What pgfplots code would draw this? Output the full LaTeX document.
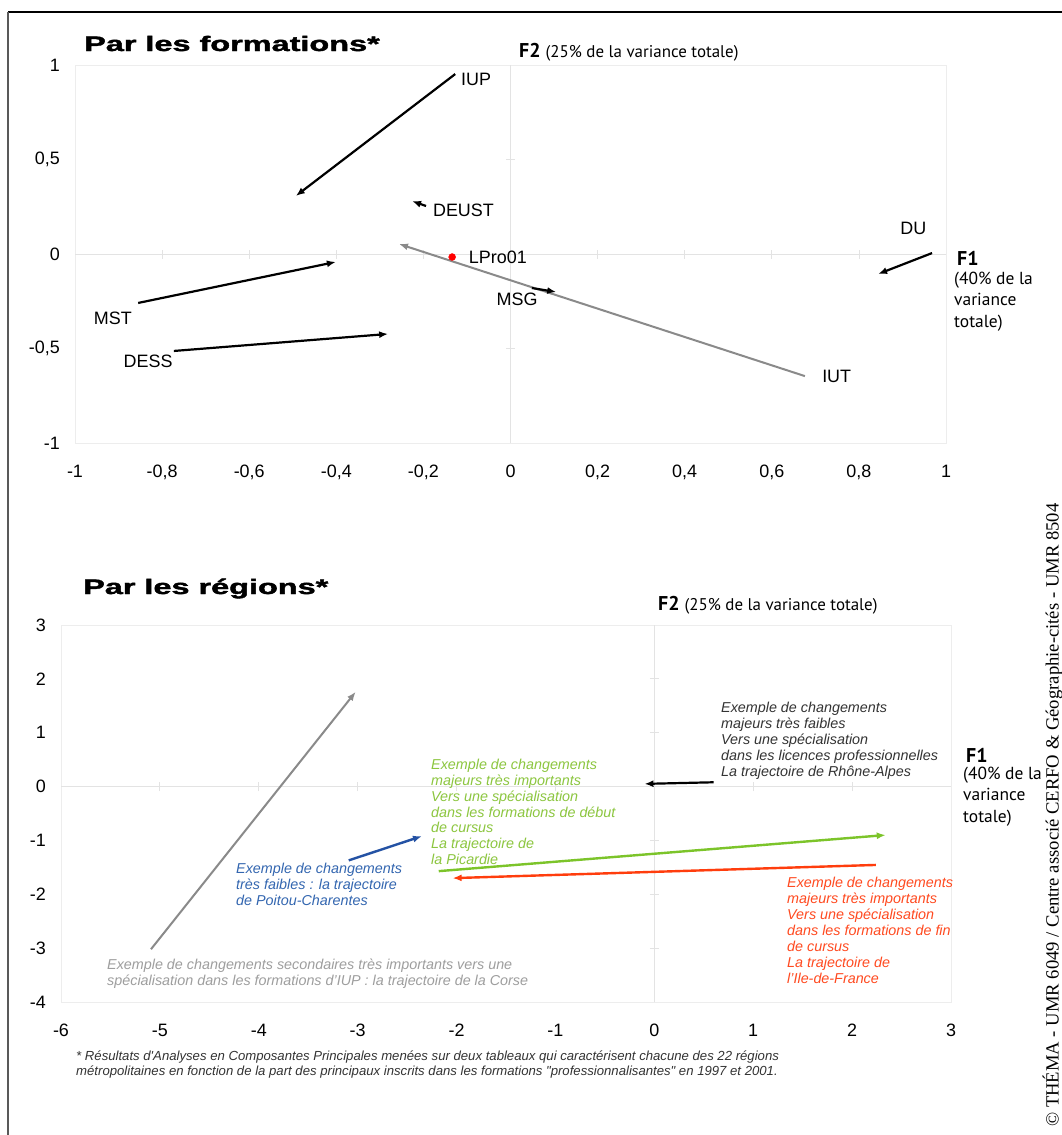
\documentclass[border=0pt]{standalone}
\usepackage{fontspec}
\setmainfont{Liberation Sans}
\newfontfamily\myriad{PT Sans}
\newfontfamily\timesf{Liberation Serif}
\newfontfamily\titlef{Liberation Sans}[BoldFeatures={FakeBold=1.6}]
\newfontfamily\footf{Liberation Sans}[Ligatures=TeXOff]
\usepackage{graphicx}
\usepackage{pgfplots}
\pgfplotsset{compat=1.18}
\usetikzlibrary{arrows.meta}
\definecolor{cgray}{HTML}{8A8A8A}
\definecolor{cgreen}{HTML}{7CC42A}
\definecolor{cred}{HTML}{FF3D0D}
\definecolor{cblue}{HTML}{2452A4}
\definecolor{tgreen}{HTML}{8CC63F}
\definecolor{tred}{HTML}{FF4A20}
\definecolor{tblue}{HTML}{3366B0}
\definecolor{tgray}{HTML}{9E9E9E}
\definecolor{tblack}{HTML}{333333}
\tikzset{
  arr/.style={-{Latex[length=9bp,width=7bp]}, line width=2.2bp, black},
  lab/.style={font=\fontsize{18}{20}\selectfont, inner sep=0pt},
}
\pgfplotsset{
  boxaxis/.style={scale only axis, anchor=south west, clip=false,
    axis line style={draw=black!7},
    major tick length=0pt, tick style={draw=none},
    xticklabel style={font=\fontsize{18}{20}\selectfont, inner sep=0pt, anchor=north, yshift=-22bp},
    yticklabel style={font=\fontsize{18}{20}\selectfont, inner sep=0pt, anchor=east, xshift=-15bp}},
  zeroaxis/.style={scale only axis, anchor=south west, clip=false,
    axis lines=middle, axis line style={draw=black!11, -},
    tick style={draw=black!11, line width=0.8bp}, tick align=center,
    major tick length=9bp, xticklabels={}, yticklabels={}},
}
\begin{document}
\begin{tikzpicture}
\path[use as bounding box, fill=white] (0,0) rectangle (1062bp,-1135bp);
% frame
\draw[line width=2.5bp, black] (8bp,-12bp) -- (1062bp,-12bp);
\draw[line width=2bp, black!65] (8bp,-12bp) -- (8bp,-1135bp);

% ===== top chart =====
\node[anchor=base west, inner sep=0pt] at (84bp,-51bp) {\scalebox{1.55}[1]{\titlef\fontsize{21}{24}\selectfont\bfseries Par les formations*}};
\begin{axis}[boxaxis, at={(75bp,-443bp)}, width=871bp, height=378bp,
  xmin=-1, xmax=1, ymin=-1, ymax=1,
  xtick={-1,-0.8,-0.6,-0.4,-0.2,0,0.2,0.4,0.6,0.8,1},
  xticklabels={-1,{-0,8},{-0,6},{-0,4},{-0,2},0,{0,2},{0,4},{0,6},{0,8},1},
  ytick={-1,-0.5,0,0.5,1},
  yticklabels={-1,{-0,5},0,{0,5},1}]
\end{axis}
\begin{axis}[zeroaxis, at={(75bp,-443bp)}, width=871bp, height=378bp,
  xmin=-1, xmax=1, ymin=-1, ymax=1,
  xtick={-0.8,-0.6,-0.4,-0.2,0.2,0.4,0.6,0.8}, ytick={-0.5,0.5}]
\addplot[-{Latex[length=9bp,width=7bp]}, line width=2bp, cgray] coordinates {(0.676,-0.646) (-0.256,0.053)};
\addplot[arr] coordinates {(-0.127,0.952) (-0.493,0.307)};
\addplot[arr] coordinates {(-0.194,0.254) (-0.226,0.280)};
\addplot[arr] coordinates {(0.049,-0.180) (0.105,-0.201)};
\addplot[arr] coordinates {(0.968,0.005) (0.844,-0.106)};
\addplot[arr] coordinates {(-0.855,-0.259) (-0.401,-0.042)};
\addplot[arr] coordinates {(-0.773,-0.513) (-0.281,-0.423)};
\addplot[only marks, mark=*, mark size=3.5bp, red, mark options={draw=red, fill=red}] coordinates {(-0.134,-0.016)};
\node[lab] at (axis cs:-0.079,0.926) {IUP};
\node[lab] at (axis cs:-0.108,0.233) {DEUST};
\node[lab] at (axis cs:-0.029,-0.016) {LPro01};
\node[lab] at (axis cs:0.015,-0.238) {MSG};
\node[lab] at (axis cs:0.925,0.138) {DU};
\node[lab] at (axis cs:0.749,-0.646) {IUT};
\node[lab] at (axis cs:-0.913,-0.339) {MST};
\node[lab] at (axis cs:-0.832,-0.566) {DESS};
\end{axis}
\node[anchor=base west, inner sep=0pt] at (519bp,-57bp) {\myriad{\fontsize{20}{22}\selectfont\bfseries F2}\hspace{5bp}{\fontsize{17}{20}\selectfont (25\% de la variance totale)}};
\node[anchor=base west, inner sep=0pt] at (957bp,-265bp) {\myriad\fontsize{20}{22}\selectfont\bfseries F1};
\node[anchor=base west, inner sep=0pt] at (954bp,-284bp) {\myriad\fontsize{17.5}{21.5}\selectfont (40\% de la};
\node[anchor=base west, inner sep=0pt] at (954bp,-305.5bp) {\myriad\fontsize{17.5}{21.5}\selectfont variance};
\node[anchor=base west, inner sep=0pt] at (954bp,-327bp) {\myriad\fontsize{17.5}{21.5}\selectfont totale)};

% ===== bottom chart =====
\node[anchor=base west, inner sep=0pt] at (83bp,-594bp) {\scalebox{1.55}[1]{\titlef\fontsize{21}{24}\selectfont\bfseries Par les régions*}};
\begin{axis}[boxaxis, at={(61bp,-1002bp)}, width=890bp, height=377bp,
  xmin=-6, xmax=3, ymin=-4, ymax=3,
  xtick={-6,-5,-4,-3,-2,-1,0,1,2,3},
  xticklabels={-6,-5,-4,-3,-2,-1,0,1,2,3},
  ytick={-4,-3,-2,-1,0,1,2,3},
  yticklabels={-4,-3,-2,-1,0,1,2,3}]
\end{axis}
\begin{axis}[zeroaxis, at={(61bp,-1002bp)}, width=890bp, height=377bp,
  xmin=-6, xmax=3, ymin=-4, ymax=3,
  xtick={-5,-4,-3,-2,-1,1,2}, ytick={-3,-2,-1,1,2}]
\addplot[-{Latex[length=9bp,width=7bp]}, line width=2bp, cgray] coordinates {(-5.09,-3.02) (-3.02,1.76)};
\addplot[-{Latex[length=9bp,width=7bp]}, line width=2.4bp, cblue] coordinates {(-3.09,-1.37) (-2.35,-0.92)};
\addplot[-{Latex[length=9bp,width=7bp]}, line width=2.4bp, cgreen] coordinates {(-2.18,-1.57) (2.34,-0.90)};
\addplot[-{Latex[length=9bp,width=7bp]}, line width=2.4bp, cred] coordinates {(2.24,-1.455) (-2.04,-1.70)};
\addplot[arr] coordinates {(0.60,0.08) (-0.10,0.05)};
\end{axis}
\node[anchor=base west, inner sep=0pt] at (658bp,-610bp) {\myriad{\fontsize{20}{22}\selectfont\bfseries F2}\hspace{5bp}{\fontsize{17}{20}\selectfont (25\% de la variance totale)}};
\node[anchor=base west, inner sep=0pt] at (966bp,-762bp) {\myriad\fontsize{20}{22}\selectfont\bfseries F1};
\node[anchor=base west, inner sep=0pt] at (963bp,-779bp) {\myriad\fontsize{17.5}{21.5}\selectfont (40\% de la};
\node[anchor=base west, inner sep=0pt] at (963bp,-800.5bp) {\myriad\fontsize{17.5}{21.5}\selectfont variance};
\node[anchor=base west, inner sep=0pt] at (963bp,-822bp) {\myriad\fontsize{17.5}{21.5}\selectfont totale)};

% annotations
\node[anchor=north west, inner sep=0pt, align=left, text=tblack, font=\fontsize{14.4}{16.1}\selectfont\itshape] at (721bp,-701.5bp)
 {Exemple de changements\\majeurs très faibles\\Vers une spécialisation\\dans les licences professionnelles\\La trajectoire de Rhône-Alpes};
\node[anchor=north west, inner sep=0pt, align=left, text=tgreen, font=\fontsize{14.4}{15.9}\selectfont\itshape] at (431bp,-759bp)
 {Exemple de changements\\majeurs très importants\\Vers une spécialisation\\dans les formations de début\\de cursus\\La trajectoire de\\la Picardie};
\node[anchor=north west, inner sep=0pt, align=left, text=tblue, font=\fontsize{14.4}{16.1}\selectfont\itshape] at (236bp,-862.5bp)
 {Exemple de changements\\très faibles : la trajectoire\\de Poitou-Charentes};
\node[anchor=north west, inner sep=0pt, align=left, text=tred, font=\fontsize{14.4}{16.2}\selectfont\itshape] at (787bp,-876.5bp)
 {Exemple de changements\\majeurs très importants\\Vers une spécialisation\\dans les formations de fin\\de cursus\\La trajectoire de\\l'Ile-de-France};
\node[anchor=north west, inner sep=0pt, align=left, text=tgray, font=\fontsize{14.4}{16.1}\selectfont\itshape] at (107bp,-958.5bp)
 {Exemple de changements secondaires très importants vers une\\spécialisation dans les formations d'IUP : la trajectoire de la Corse};

% footnote
\node[anchor=north west, inner sep=0pt, align=left, text=tblack, font=\footf\fontsize{13.2}{15}\selectfont\itshape] at (76bp,-1051bp)
 {* Résultats d'Analyses en Composantes Principales menées sur deux tableaux qui caractérisent chacune des 22 régions\\métropolitaines en fonction de la part des principaux inscrits dans les formations "professionnalisantes" en 1997 et 2001.};

% copyright
\node[anchor=base west, inner sep=0pt, rotate=90] at (1058.5bp,-1127bp) {\timesf\fontsize{18.7}{20}\selectfont © THÉMA - UMR 6049 / Centre associé CERFO \& Géographie-cités - UMR 8504};
\end{tikzpicture}
\end{document}
